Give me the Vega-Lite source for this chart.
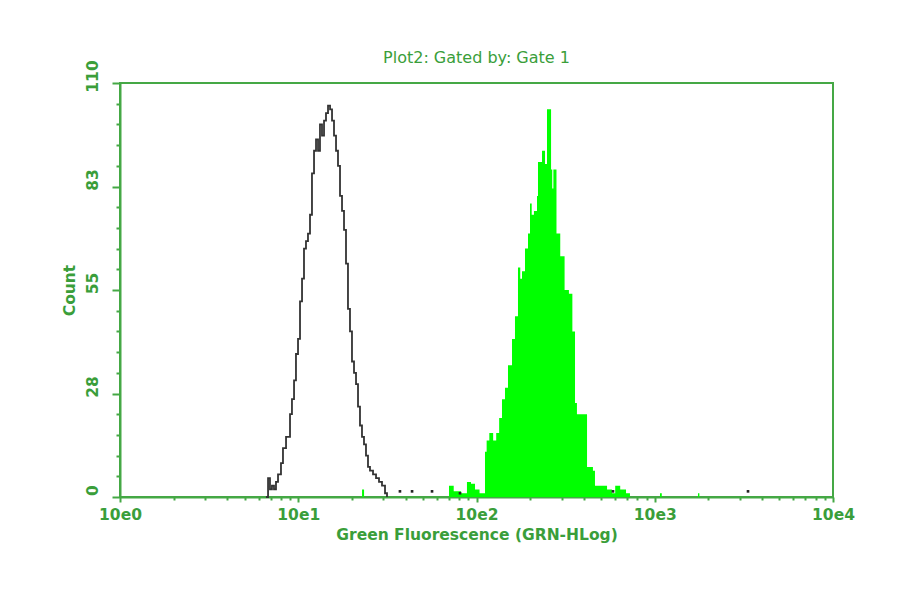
{
  "$schema": "https://vega.github.io/schema/vega-lite/v6.json",
  "width": 713,
  "height": 414,
  "autosize": {"type": "none"},
  "padding": {"left": 120, "top": 83, "right": 67, "bottom": 97},
  "background": "white",
  "title": {"text": "Plot2: Gated by: Gate 1", "font": "DejaVu Sans", "fontSize": 16, "fontWeight": "normal", "color": "#3a9e3a", "offset": 4, "dy": 10, "anchor": "middle"},
  "config": {"view": {"stroke": "#45a845", "strokeWidth": 2}},
  "datasets": {
    "green": [
      {"x": 22.2, "count": 0}, {"x": 22.8, "count": 2}, {"x": 23.4, "count": 0},
      {"x": 66.6, "count": 0}, {"x": 70.1, "count": 3}, {"x": 74.5, "count": 1.5}, {"x": 82, "count": 1}, {"x": 88.4, "count": 4}, {"x": 93.1, "count": 3.5}, {"x": 98.1, "count": 2}, {"x": 104, "count": 1},
      {"x": 111.6, "count": 12}, {"x": 114, "count": 15}, {"x": 118, "count": 17}, {"x": 124, "count": 15}, {"x": 129, "count": 17}, {"x": 134, "count": 21}, {"x": 139, "count": 26}, {"x": 144.5, "count": 29}, {"x": 150.2, "count": 35}, {"x": 158.2, "count": 42}, {"x": 164.4, "count": 48}, {"x": 170.9, "count": 61}, {"x": 176, "count": 58}, {"x": 180, "count": 60}, {"x": 187.1, "count": 66}, {"x": 194.5, "count": 70}, {"x": 199.6, "count": 78}, {"x": 204, "count": 75}, {"x": 210, "count": 76}, {"x": 218.5, "count": 80}, {"x": 221.3, "count": 89}, {"x": 233.1, "count": 92}, {"x": 242.3, "count": 88.5}, {"x": 248.6, "count": 103}, {"x": 262, "count": 87}, {"x": 266, "count": 82}, {"x": 270, "count": 87}, {"x": 281, "count": 70}, {"x": 295, "count": 64}, {"x": 312, "count": 55}, {"x": 330, "count": 54}, {"x": 345, "count": 44}, {"x": 357, "count": 25}, {"x": 366, "count": 22}, {"x": 405, "count": 22}, {"x": 417, "count": 8}, {"x": 450, "count": 7}, {"x": 462, "count": 3}, {"x": 540, "count": 2}, {"x": 575, "count": 1}, {"x": 600, "count": 3}, {"x": 640, "count": 2}, {"x": 690, "count": 1}, {"x": 726, "count": 0},
      {"x": 1050, "count": 0}, {"x": 1070, "count": 1}, {"x": 1095, "count": 0}, {"x": 1720, "count": 0}, {"x": 1748, "count": 1}, {"x": 1780, "count": 0}
    ],
    "black": [
      {"x": 6.59, "count": 0}, {"x": 6.77, "count": 5}, {"x": 6.94, "count": 2}, {"x": 7.12, "count": 3}, {"x": 7.31, "count": 2}, {"x": 7.5, "count": 4}, {"x": 7.7, "count": 6}, {"x": 8.0, "count": 9}, {"x": 8.21, "count": 13}, {"x": 8.54, "count": 16}, {"x": 8.76, "count": 16}, {"x": 8.99, "count": 22}, {"x": 9.22, "count": 26}, {"x": 9.47, "count": 31}, {"x": 9.71, "count": 38}, {"x": 9.97, "count": 42}, {"x": 10.23, "count": 52}, {"x": 10.5, "count": 58}, {"x": 10.77, "count": 66}, {"x": 11.05, "count": 68}, {"x": 11.34, "count": 70}, {"x": 11.64, "count": 75}, {"x": 11.94, "count": 86}, {"x": 12.26, "count": 92}, {"x": 12.58, "count": 95}, {"x": 12.91, "count": 92}, {"x": 13.24, "count": 99}, {"x": 13.59, "count": 96}, {"x": 13.95, "count": 100}, {"x": 14.31, "count": 102}, {"x": 14.69, "count": 104}, {"x": 15.08, "count": 103}, {"x": 15.47, "count": 100}, {"x": 15.87, "count": 96}, {"x": 16.29, "count": 92}, {"x": 16.71, "count": 88}, {"x": 17.15, "count": 80}, {"x": 17.6, "count": 76}, {"x": 18.06, "count": 71}, {"x": 18.53, "count": 62}, {"x": 19.01, "count": 50}, {"x": 19.51, "count": 44}, {"x": 20.02, "count": 36}, {"x": 20.55, "count": 33}, {"x": 21.09, "count": 30}, {"x": 21.64, "count": 24}, {"x": 22.2, "count": 19}, {"x": 22.78, "count": 16}, {"x": 23.38, "count": 14}, {"x": 23.99, "count": 11}, {"x": 24.62, "count": 8}, {"x": 25.26, "count": 7}, {"x": 26.27, "count": 6}, {"x": 27.31, "count": 5}, {"x": 28.38, "count": 4}, {"x": 29.5, "count": 3}, {"x": 30.67, "count": 1}, {"x": 31.47, "count": 0}
    ],
    "dots": [
      {"x": 37.2, "count": 1.5}, {"x": 43.5, "count": 1.5}, {"x": 56.3, "count": 1.5}, {"x": 80.8, "count": 1}, {"x": 583, "count": 1.5}, {"x": 3336, "count": 1.5}
    ]
  },
  "resolve": {"axis": {"x": "independent", "y": "independent"}},
  "layer": [
    {
      "data": {"name": "green"},
      "mark": {"type": "area", "interpolate": "step-after", "color": "#00ff00", "opacity": 1},
      "encoding": {
        "x": {"field": "x", "type": "quantitative", "scale": {"type": "log", "domain": [1, 10000], "nice": false},
          "axis": {"orient": "bottom", "values": [1, 10, 100, 1000, 10000], "labelExpr": "'10e' + round(log(datum.value)/LN10)", "grid": false, "labelFlush": false, "labelOverlap": false,
            "domainColor": "#45a845", "domainWidth": 2, "tickColor": "#45a845", "tickWidth": 2, "tickSize": 5,
            "labelFont": "DejaVu Sans", "labelFontSize": 15.5, "labelFontWeight": "bold", "labelColor": "#3a9e3a", "labelPadding": 5,
            "title": "Green Fluorescence (GRN-HLog)", "titleFont": "DejaVu Sans", "titleFontSize": 15.5, "titleFontWeight": "bold", "titleColor": "#3a9e3a", "titlePadding": 5}},
        "y": {"field": "count", "type": "quantitative", "scale": {"domain": [0, 110], "nice": false},
          "axis": {"orient": "left", "values": [0, 27.5, 55, 82.5, 110], "labelExpr": "'' + round(datum.value)", "grid": false, "labelAngle": -90, "labelOverlap": false, "labelFlush": false, "labelOffset": -7,
            "domainColor": "#45a845", "domainWidth": 2, "tickColor": "#45a845", "tickWidth": 2, "tickSize": 8,
            "labelFont": "DejaVu Sans", "labelFontSize": 15.5, "labelFontWeight": "bold", "labelColor": "#3a9e3a", "labelPadding": 12,
            "title": "Count", "titleFont": "DejaVu Sans", "titleFontSize": 15.5, "titleFontWeight": "bold", "titleColor": "#3a9e3a", "titlePadding": 8}}
      }
    },
    {
      "data": {"name": "black"},
      "mark": {"type": "line", "interpolate": "step-after", "color": "#333333", "strokeWidth": 1.8},
      "encoding": {
        "x": {"field": "x", "type": "quantitative", "axis": null},
        "y": {"field": "count", "type": "quantitative", "axis": null}
      }
    },
    {
      "data": {"name": "dots"},
      "mark": {"type": "square", "color": "#222222", "size": 7, "opacity": 1},
      "encoding": {
        "x": {"field": "x", "type": "quantitative",
          "axis": {"orient": "bottom", "values": [2, 3, 4, 5, 6, 7, 8, 9, 20, 30, 40, 50, 60, 70, 80, 90, 200, 300, 400, 500, 600, 700, 800, 900, 2000, 3000, 4000, 5000, 6000, 7000, 8000, 9000], "labels": false, "domain": false, "grid": false, "title": null, "tickColor": "#45a845", "tickWidth": 2, "tickSize": 3}},
        "y": {"field": "count", "type": "quantitative",
          "axis": {"orient": "left", "values": [5.5, 11, 16.5, 22, 33, 38.5, 44, 49.5, 60.5, 66, 71.5, 77, 88, 93.5, 99, 104.5], "labels": false, "domain": false, "grid": false, "title": null, "tickColor": "#45a845", "tickWidth": 2, "tickSize": 4}}
      }
    }
  ]
}
